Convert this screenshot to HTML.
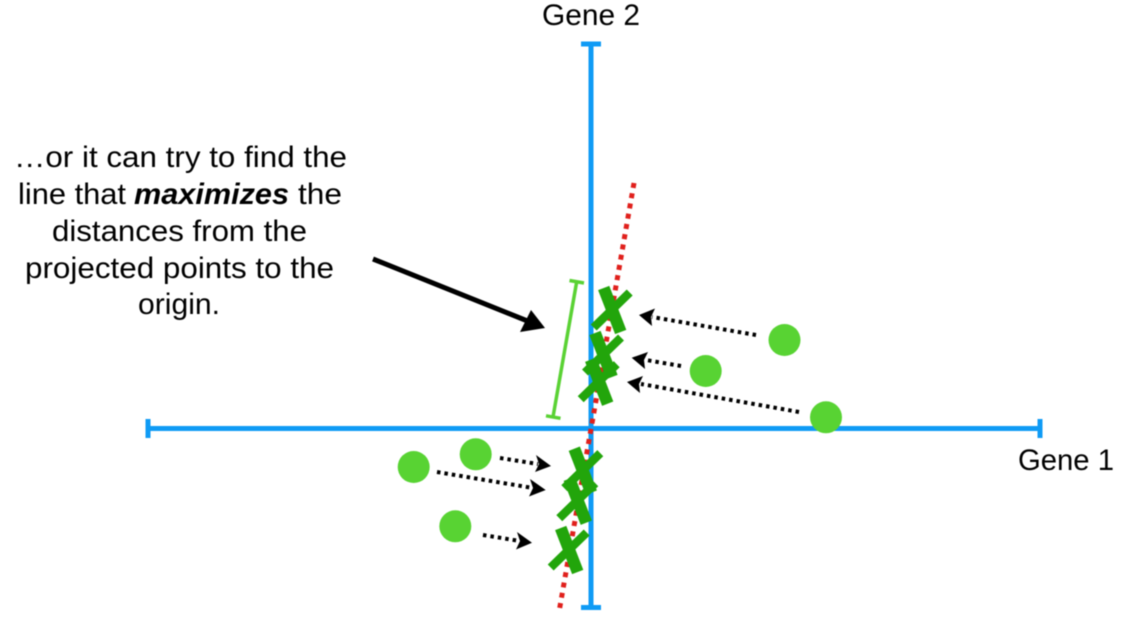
<!DOCTYPE html>
<html><head><meta charset="utf-8"><style>
html,body{margin:0;padding:0;background:#fff;width:1123px;height:629px;overflow:hidden}
svg{display:block}
text{font-family:"Liberation Sans",sans-serif;font-size:30px;fill:#000;text-anchor:start}
</style></head><body>
<svg width="1123" height="629" viewBox="0 0 1123 629" xmlns="http://www.w3.org/2000/svg">
<g style="filter:blur(0.5px)">
<g stroke="#0f9bf5" stroke-width="5" fill="none">
<path d="M148 428.500H1040M148 419V438M1040 419V438"/>
<path d="M591 44V607.500M581 44H601M581 607.500H601"/>
</g>
<path d="M634 183L559 612" stroke="#e0201c" stroke-width="5" stroke-dasharray="5 5.400" fill="none"/>
<path d="M576.700 281.700L553 417M569.500 280.500L584 283M546 415.800L560.500 418.300" stroke="#5ad234" stroke-width="3.500" fill="none"/>
<g fill="#58d333">
<circle cx="784.500" cy="340" r="16"/><circle cx="705.700" cy="371" r="16"/><circle cx="826" cy="417.300" r="16"/>
<circle cx="413.700" cy="467" r="16"/><circle cx="475.700" cy="454.300" r="16"/><circle cx="455.300" cy="526.300" r="16"/>
</g>
<g stroke="#22a50b" fill="none">
<g transform="translate(611.700 310)"><path d="M-8 -22L9 22" stroke-width="12"/><path d="M18 -17.500L-18 17.500" stroke-width="8.500"/></g>
<g transform="translate(603 355)"><path d="M-8 -22L9 22" stroke-width="12"/><path d="M18 -17.500L-18 17.500" stroke-width="8.500"/></g>
<g transform="translate(598.700 381.700)"><path d="M-8 -22L9 22" stroke-width="12"/><path d="M18 -17.500L-18 17.500" stroke-width="8.500"/></g>
<g transform="translate(582.300 470.700)"><path d="M-8 -22L9 22" stroke-width="12"/><path d="M18 -17.500L-18 17.500" stroke-width="8.500"/></g>
<g transform="translate(577.300 500.700)"><path d="M-8 -22L9 22" stroke-width="12"/><path d="M18 -17.500L-18 17.500" stroke-width="8.500"/></g>
<g transform="translate(568.700 550)"><path d="M-8 -22L9 22" stroke-width="12"/><path d="M18 -17.500L-18 17.500" stroke-width="8.500"/></g>
</g>
<g stroke="#000" stroke-width="4" stroke-dasharray="3.500 4" fill="none">
<path d="M756 335L652 317"/><path d="M681 366L646 360"/><path d="M799 412L641 384"/>
<path d="M500 458L538 464"/><path d="M437 472L533 488"/><path d="M483 535L520 541"/>
</g>
<g fill="#000">
<path d="M639 315L655 308.500L651 317L652 326Z"/>
<path d="M631.700 357.700L648 352L644 360L645 369Z"/>
<path d="M627 382L643 376L639 384L640 393Z"/>
<path d="M551 466L535 472L539 464L536 455Z"/>
<path d="M545.700 490L529 496.500L533 488L530 479Z"/>
<path d="M532 542.700L516 549.500L520 541L517 532Z"/>
<path d="M545 328L520 332L531 310Z"/>
</g>
<path d="M373 259L530 322" stroke="#000" stroke-width="5" fill="none"/>
<text x="542" y="25" textLength="98" lengthAdjust="spacingAndGlyphs">Gene 2</text>
<text x="1018" y="470" textLength="96" lengthAdjust="spacingAndGlyphs">Gene 1</text>
<text x="14" y="167" textLength="333" lengthAdjust="spacingAndGlyphs">…or it can try to find the</text>
<text x="18" y="204" textLength="108" lengthAdjust="spacingAndGlyphs">line that</text>
<text x="134" y="204" font-weight="bold" font-style="italic" textLength="155" lengthAdjust="spacingAndGlyphs">maximizes</text>
<text x="298" y="204" textLength="44" lengthAdjust="spacingAndGlyphs">the</text>
<text x="52" y="241" textLength="255" lengthAdjust="spacingAndGlyphs">distances from the</text>
<text x="25" y="278" textLength="309" lengthAdjust="spacingAndGlyphs">projected points to the</text>
<text x="138" y="314" textLength="82" lengthAdjust="spacingAndGlyphs">origin.</text>
</g>
</svg>
</body></html>
